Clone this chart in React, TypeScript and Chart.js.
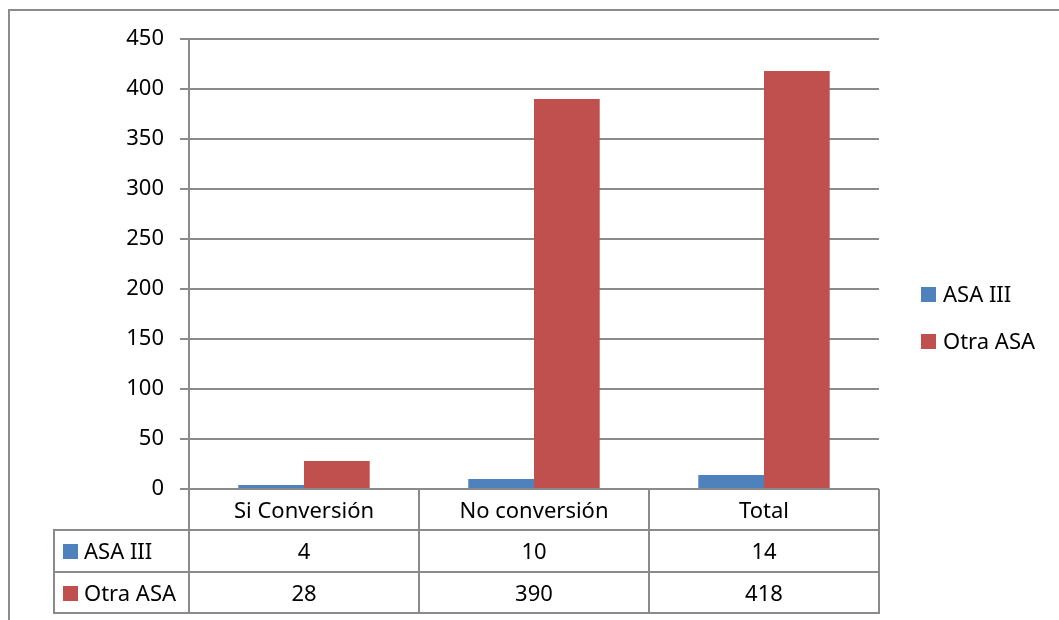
import React, { useEffect, useRef } from "react";
import { Chart, registerables } from "chart.js";

Chart.register(...registerables);

const categories = ["Si Conversión", "No conversión", "Total"];
const seriesNames = ["ASA III", "Otra ASA"];
const asaIII = [4, 10, 14];
const otraASA = [28, 390, 418];
const seriesColors = ["#4F81BD", "#C0504D"];
const yMin = 0;
const yMax = 450;
const yStep = 50;

const FONT = "'Noto Sans'";
const FONT_SIZE = 22;
const LINE = "#8a8a8a";
const LW = 2;

const tablePlugin = {
  id: "excelTable",
  beforeDraw(chart: any) {
    const ctx = chart.ctx;
    ctx.save();
    ctx.fillStyle = "#ffffff";
    ctx.fillRect(0, 0, chart.width, chart.height);
    ctx.strokeStyle = "#8c8c8c";
    ctx.lineWidth = 2;
    ctx.strokeRect(9, 10, chart.width + 50, chart.height + 50);
    ctx.restore();
  },
  afterDraw(chart: any) {
    const ctx = chart.ctx;
    const area = chart.chartArea;
    const xs = chart.scales.x;
    const n = chart.data.labels.length;
    const colW = (area.right - area.left) / n;
    const top = Math.round(area.bottom);
    const r1 = top + 41;
    const r2 = r1 + 42;
    const r3 = r2 + 41;
    const keyLeft = 54;
    const R = Math.round(area.right);

    ctx.save();
    ctx.strokeStyle = LINE;
    ctx.lineWidth = LW;
    ctx.beginPath();
    [r1, r2, r3].forEach((y) => {
      ctx.moveTo(keyLeft - 1, y);
      ctx.lineTo(R + 1, y);
    });
    ctx.moveTo(keyLeft, r1);
    ctx.lineTo(keyLeft, r3 + 1);
    for (let i = 0; i <= n; i++) {
      const x = Math.round(area.left + i * colW);
      ctx.moveTo(x, top);
      ctx.lineTo(x, r3 + 1);
    }
    ctx.stroke();

    ctx.font = `${FONT_SIZE}px ${FONT}`;
    ctx.fillStyle = "#000000";
    ctx.textBaseline = "middle";
    ctx.textAlign = "center";
    chart.data.labels.forEach((lab: string, i: number) => {
      const cx = xs.getPixelForValue(i);
      ctx.fillText(lab, cx, (top + r1) / 2 + 2);
    });
    const rows = [
      [r1, r2],
      [r2, r3],
    ];
    chart.data.datasets.forEach((ds: any, d: number) => {
      const cy = (rows[d][0] + rows[d][1]) / 2 + 2;
      ctx.textAlign = "center";
      ctx.fillStyle = "#000000";
      ds.data.forEach((v: number, i: number) => {
        ctx.fillText(String(v), xs.getPixelForValue(i), cy);
      });
      ctx.fillStyle = ds.backgroundColor;
      ctx.fillRect(63, Math.round(cy) - 9, 15, 15);
      ctx.fillStyle = "#000000";
      ctx.textAlign = "left";
      ctx.fillText(ds.label, 84, cy);
    });

    const legY = [295, 342];
    chart.data.datasets.forEach((ds: any, d: number) => {
      ctx.fillStyle = ds.backgroundColor;
      ctx.fillRect(921, legY[d] - 8, 15, 15);
      ctx.fillStyle = "#000000";
      ctx.textAlign = "left";
      ctx.fillText(ds.label, 943, legY[d] + 1);
    });
    ctx.restore();
  },
};

export default function App() {
  const canvasRef = useRef<HTMLCanvasElement | null>(null);

  useEffect(() => {
    document.body.style.margin = "0";
    const canvas = canvasRef.current;
    if (!canvas) return;
    const chart = new Chart(canvas, {
      type: "bar",
      data: {
        labels: categories,
        datasets: [
          {
            label: seriesNames[0],
            data: asaIII,
            backgroundColor: seriesColors[0],
            borderWidth: 0,
            categoryPercentage: 2 / 3.5,
            barPercentage: 1,
          },
          {
            label: seriesNames[1],
            data: otraASA,
            backgroundColor: seriesColors[1],
            borderWidth: 0,
            categoryPercentage: 2 / 3.5,
            barPercentage: 1,
          },
        ],
      },
      options: {
        animation: false,
        responsive: false,
        devicePixelRatio: 1,
        layout: { padding: { top: 39, right: 180, left: 0, bottom: 0 } },
        plugins: {
          legend: { display: false },
          tooltip: { enabled: false },
        },
        scales: {
          x: {
            type: "category",
            grid: { display: false },
            border: { display: false },
            ticks: { display: false },
            afterFit: (scale: any) => {
              scale.height = 131;
            },
          },
          y: {
            min: yMin,
            max: yMax,
            ticks: {
              stepSize: yStep,
              color: "#000000",
              padding: 16,
              font: { family: FONT, size: FONT_SIZE },
            },
            grid: {
              color: LINE,
              lineWidth: LW,
              tickLength: 9,
              drawTicks: true,
            },
            border: { display: true, color: LINE, width: LW },
            afterFit: (scale: any) => {
              scale.width = 189;
            },
          },
        },
      },
      plugins: [tablePlugin],
    });
    return () => chart.destroy();
  }, []);

  return (
    <div style={{ position: "absolute", left: 0, top: 0, width: 1059, height: 620 }}>
      <canvas ref={canvasRef} width={1059} height={620} />
    </div>
  );
}
